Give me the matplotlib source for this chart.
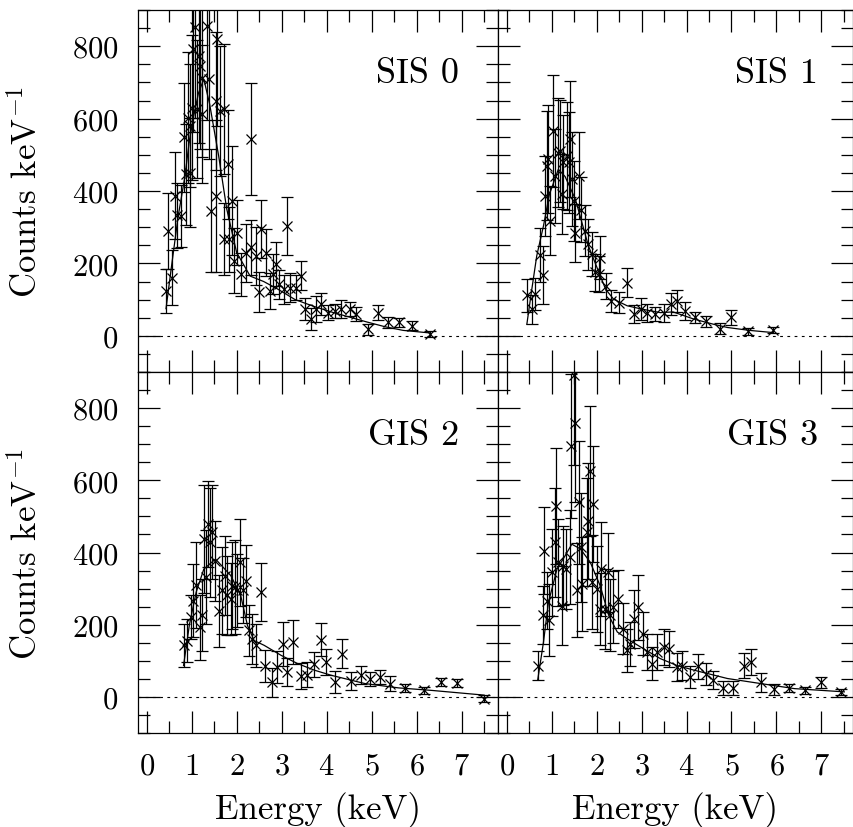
import matplotlib
matplotlib.use('Agg')

import matplotlib.pyplot as plt
from matplotlib.ticker import MultipleLocator

plt.rcParams['font.family'] = ['cmr10', 'DejaVu Serif']
plt.rcParams['mathtext.fontset'] = 'cm'
plt.rcParams['axes.formatter.use_mathtext'] = True
plt.rcParams['axes.unicode_minus'] = False

# SIS 0
sis0_e = [0.43, 0.56, 0.47, 0.63, 0.67, 0.76, 0.84, 0.88, 0.96, 0.91, 0.96, 1.00, 1.04,
          1.08, 1.16, 1.19, 1.23, 1.34, 1.38, 1.12, 1.23, 1.53, 1.57, 1.64, 1.72, 1.42,
          1.53, 1.81, 1.90, 1.72, 1.84, 1.94, 2.01, 2.09, 2.20, 2.31, 2.31, 2.43, 2.49,
          2.55, 2.65, 2.75, 2.80, 2.87, 2.95, 3.06, 3.13, 3.19, 3.32, 3.43, 3.52, 3.66,
          3.77, 3.88, 4.03, 4.18, 4.33, 4.51, 4.66, 4.93, 5.15, 5.36, 5.60, 5.90, 6.29]
sis0_c = [124, 161, 290, 387, 333, 331, 548, 446, 451, 603, 580, 630, 792,
          852, 773, 745, 713, 856, 709, 626, 612, 649, 819, 621, 626, 345,
          387, 474, 373, 267, 267, 207, 285, 170, 230, 244, 543, 221, 120,
          295, 230, 124, 170, 198, 143, 129, 304, 133, 133, 166, 74, 46,
          74, 87, 64, 69, 74, 74, 60, 18, 64, 37, 37, 28, 6]
sis0_err = [60, 75, 105, 120, 90, 85, 150, 140, 150, 180, 170, 200, 230,
            250, 240, 230, 220, 260, 220, 190, 190, 190, 240, 180, 180, 170,
            210, 150, 150, 100, 90, 90, 90, 60, 80, 75, 155, 80, 55,
            80, 65, 50, 55, 60, 40, 40, 80, 40, 35, 40, 30, 30,
            35, 30, 20, 20, 25, 20, 20, 15, 20, 15, 12, 12, 8]
sis0_model_e = [0.43, 0.55, 0.70, 0.85, 0.95, 1.05, 1.15, 1.27, 1.40, 1.60, 1.78, 2.00,
                2.30, 2.60, 2.90, 3.30, 3.70, 4.10, 4.50, 4.90, 5.30, 5.70, 6.29]
sis0_model = [75, 190, 330, 440, 540, 610, 670, 709, 640, 497, 350, 230,
              165, 150, 130, 100, 82, 66, 52, 38, 25, 15, 8]

# SIS 1
sis1_e = [0.45, 0.56, 0.63, 0.74, 0.80, 0.86, 0.89, 0.93, 0.97, 1.04, 1.08, 1.15, 1.19,
          1.23, 1.26, 1.34, 1.38, 1.41, 1.45, 1.49, 1.53, 1.60, 1.65, 1.75, 1.82, 1.90,
          1.97, 2.08, 2.05, 2.20, 2.31, 2.49, 2.68, 2.83, 2.98, 3.13, 3.31, 3.50, 3.65,
          3.78, 3.96, 4.19, 4.44, 4.74, 4.99, 5.36, 5.92]
sis1_c = [112, 74, 115, 223, 168, 387, 470, 488, 318, 566, 442, 506, 511,
          391, 479, 497, 479, 543, 433, 373, 285, 442, 348, 290, 253, 226,
          175, 216, 170, 138, 97, 92, 147, 60, 74, 64, 60, 64, 87,
          97, 69, 51, 40, 20, 51, 12, 17]
sis1_err = [45, 40, 45, 75, 80, 110, 150, 150, 95, 155, 130, 150, 140,
            110, 130, 150, 140, 160, 130, 110, 80, 120, 90, 70, 70, 60,
            50, 60, 50, 35, 30, 30, 40, 25, 30, 25, 20, 25, 30,
            30, 25, 15, 15, 15, 20, 10, 8]
sis1_model_e = [0.45, 0.55, 0.67, 0.82, 0.95, 1.15, 1.30, 1.53, 1.82, 2.20, 2.38, 2.68,
                3.00, 3.42, 3.70, 4.17, 4.60, 4.91, 5.40, 5.92]
sis1_model = [32, 120, 221, 304, 390, 460, 440, 377, 248, 129, 101, 83,
              74, 64, 66, 46, 32, 23, 15, 9]

# GIS 2
gis2_e = [0.82, 0.90, 0.99, 1.04, 1.10, 1.18, 1.23, 1.28, 1.31, 1.36, 1.40, 1.46, 1.51,
          1.60, 1.68, 1.75, 1.79, 1.87, 1.90, 1.96, 2.01, 2.07, 2.13, 2.20, 2.28, 2.35,
          2.43, 2.54, 2.63, 2.78, 2.90, 3.02, 3.13, 3.26, 3.43, 3.57, 3.72, 3.87, 3.99,
          4.18, 4.34, 4.54, 4.76, 4.96, 5.19, 5.41, 5.75, 6.16, 6.55, 6.90, 7.50]
gis2_c = [143, 156, 221, 267, 310, 193, 226, 437, 331, 479, 428, 456, 377,
          239, 295, 336, 281, 272, 308, 304, 295, 373, 295, 322, 184, 161,
          143, 290, 85, 41, 83, 147, 69, 152, 58, 62, 90, 159, 97,
          41, 120, 43, 60, 49, 55, 37, 25, 18, 41, 39, -5]
gis2_err = [60, 60, 60, 100, 120, 90, 100, 150, 130, 120, 150, 130, 110,
            100, 120, 110, 110, 100, 120, 130, 100, 120, 90, 100, 70, 70,
            60, 80, 45, 40, 45, 60, 40, 60, 35, 35, 35, 45, 35,
            30, 40, 25, 25, 20, 20, 20, 10, 10, 12, 12, 10]
gis2_model_e = [0.82, 0.95, 1.10, 1.27, 1.53, 1.87, 2.09, 2.24, 2.39, 2.61, 2.99, 3.36,
                3.73, 4.10, 4.85, 5.60, 6.34, 7.50]
gis2_model = [87, 200, 290, 354, 382, 336, 281, 198, 156, 143, 115, 92,
              74, 60, 37, 25, 18, 5]

# GIS 3
gis3_e = [0.69, 0.80, 0.84, 0.89, 0.95, 1.00, 1.08, 1.10, 1.15, 1.23, 1.26, 1.32, 1.41,
          1.43, 1.51, 1.50, 1.56, 1.60, 1.65, 1.67, 1.79, 1.82, 1.86, 1.90, 1.93, 2.01,
          2.08, 2.10, 2.19, 2.25, 2.29, 2.37, 2.47, 2.59, 2.68, 2.75, 2.84, 2.92, 3.04,
          3.13, 3.24, 3.35, 3.50, 3.61, 3.78, 3.91, 4.08, 4.26, 4.43, 4.60, 4.82, 5.04,
          5.28, 5.43, 5.65, 5.94, 6.29, 6.64, 6.99, 7.44]
gis3_c = [87, 226, 405, 267, 212, 345, 428, 529, 373, 253, 364, 354, 387,
          695, 760, 893, 295, 539, 414, 313, 456, 488, 626, 318, 534, 299,
          244, 354, 244, 345, 226, 249, 272, 189, 129, 147, 216, 249, 175,
          124, 92, 124, 138, 133, 83, 87, 55, 85, 64, 46, 25, 25,
          87, 97, 40, 21, 25, 18, 40, 14]
gis3_err = [40, 80, 120, 80, 100, 120, 150, 160, 120, 110, 110, 110, 130,
            200, 220, 250, 130, 170, 150, 130, 150, 160, 180, 130, 160, 120,
            100, 130, 110, 110, 100, 100, 80, 70, 60, 60, 80, 90, 60,
            50, 45, 50, 50, 50, 40, 40, 30, 35, 30, 25, 20, 20,
            35, 35, 25, 15, 12, 10, 15, 8]
gis3_model_e = [0.69, 0.82, 0.93, 1.12, 1.30, 1.45, 1.64, 1.86, 2.08, 2.27, 2.46, 2.68,
                3.05, 3.42, 3.79, 4.17, 4.91, 5.65, 6.40, 7.51]
gis3_model = [46, 152, 262, 354, 391, 423, 410, 373, 308, 226, 180, 161,
              133, 106, 87, 74, 51, 37, 23, 14]

panels = [
    ('SIS 0', sis0_e, sis0_c, sis0_err, sis0_model_e, sis0_model),
    ('SIS 1', sis1_e, sis1_c, sis1_err, sis1_model_e, sis1_model),
    ('GIS 2', gis2_e, gis2_c, gis2_err, gis2_model_e, gis2_model),
    ('GIS 3', gis3_e, gis3_c, gis3_err, gis3_model_e, gis3_model),
]

fig = plt.figure(figsize=(8.54, 8.28), dpi=100)
rects = [
    [0.1612, 0.5495, 0.4215, 0.4372],
    [0.5827, 0.5495, 0.4160, 0.4372],
    [0.1612, 0.1135, 0.4215, 0.4360],
    [0.5827, 0.1135, 0.4160, 0.4360],
]
xmax = [7.8, 7.7, 7.8, 7.7]

for i, (name, e, c, err, me, mc) in enumerate(panels):
    ax = fig.add_axes(rects[i])
    ax.errorbar(e, c, yerr=err, fmt='x', color='black', ms=7, mew=0.9,
                elinewidth=0.9, capsize=4, capthick=0.9)
    ax.plot(me, mc, color='black', lw=0.9)
    ax.axhline(0, color='black', lw=0.8, linestyle=(0, (2.5, 4)))
    ax.set_xlim(-0.2, xmax[i])
    ax.set_ylim(-100, 900)
    ax.xaxis.set_major_locator(MultipleLocator(1))
    ax.xaxis.set_minor_locator(MultipleLocator(0.5))
    ax.yaxis.set_major_locator(MultipleLocator(200))
    ax.yaxis.set_minor_locator(MultipleLocator(50))
    ax.tick_params(which='both', direction='in', top=True, right=True, width=0.9,
                   labelsize=22, pad=14)
    ax.tick_params(which='major', length=16)
    ax.tick_params(which='minor', length=8.5)
    for s in ax.spines.values():
        s.set_linewidth(0.9)
    ax.text(6.95 if i % 2 == 0 else 6.92, 725, name, ha='right', va='center', fontsize=26)
    if i < 2:
        ax.tick_params(labelbottom=False)
    else:
        ax.set_xlabel('Energy (keV)', fontsize=25)
        ax.xaxis.set_label_coords(0.5, -0.16)
    if i % 2 == 1:
        ax.tick_params(labelleft=False)
    else:
        ax.set_ylabel('Counts keV$^{-1}$', fontsize=25)
        ax.yaxis.set_label_coords(-0.262, 0.5)

fig.savefig('out.png', dpi=100)
